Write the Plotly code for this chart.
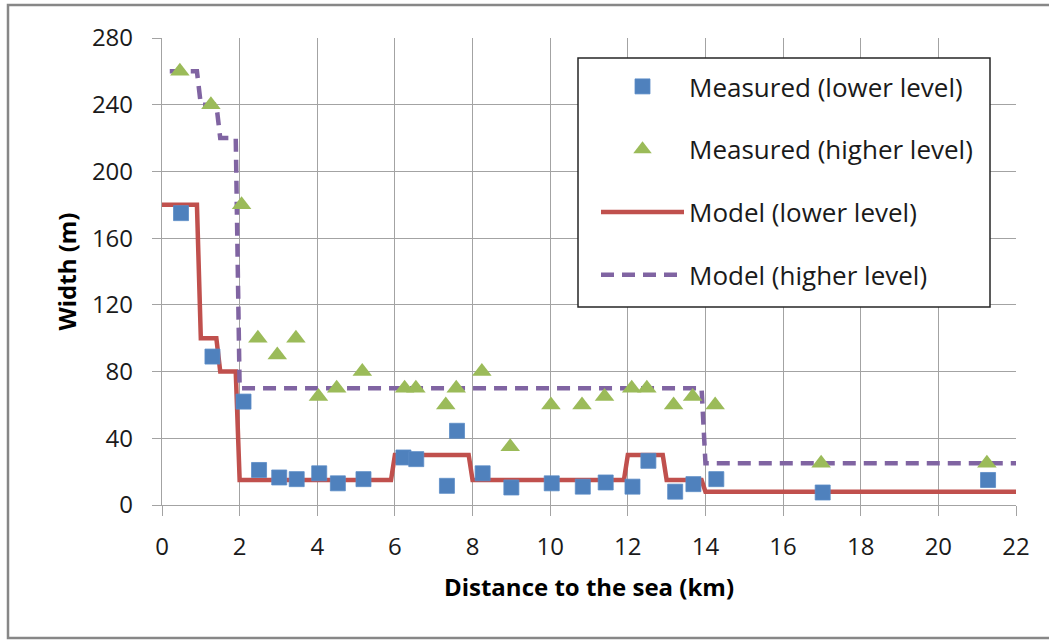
import plotly.graph_objects as go

# Measured widths (lower level)
meas_low_x = [0.49, 1.30, 2.10, 2.50, 3.02, 3.47, 4.05, 4.53, 5.19, 6.22, 6.55, 7.34, 7.60,
              8.26, 9.00, 10.04, 10.84, 11.43, 12.12, 12.53, 13.22, 13.69, 14.28, 17.02, 21.28]
meas_low_y = [175, 89, 62, 21, 16.5, 15.5, 19, 13, 15.5, 28.5, 27.5, 11.5, 44.5,
              19, 10.5, 13, 11, 13.5, 11, 26.5, 8, 12.5, 15.5, 7.5, 15]

# Measured widths (higher level)
meas_high_x = [0.46, 1.26, 2.05, 2.47, 2.97, 3.45, 4.03, 4.50, 5.16, 6.25, 6.54, 7.31, 7.58,
               8.24, 8.97, 10.02, 10.82, 11.40, 12.10, 12.49, 13.18, 13.67, 14.25, 16.98, 21.25]
meas_high_y = [260, 240, 180, 100, 90, 100, 65, 70, 80, 70, 70, 60, 70,
               80, 35, 60, 60, 65, 70, 70, 60, 65, 60, 25, 25]

# Model (lower level)
model_low_x = [0, 0.9, 1.0, 1.4, 1.5, 1.9, 2.0, 5.9, 6.0, 7.9, 8.0, 11.9, 12.0, 12.9, 13.0, 13.9, 14.0, 22]
model_low_y = [180, 180, 100, 100, 80, 80, 15, 15, 30, 30, 15, 15, 30, 30, 15, 15, 8, 8]

# Model (higher level)
model_high_x = [0.2, 0.9, 1.0, 1.4, 1.5, 1.9, 2.0, 13.9, 14.0, 22]
model_high_y = [260, 260, 240, 240, 220, 220, 70, 70, 25, 25]

x_ticks = list(range(0, 23, 2))
y_ticks = list(range(0, 281, 40))

FONT = "Open Sans"
GRID = "#a3a3a3"
TXT = "#1a1a1a"

fig = go.Figure()

fig.add_trace(go.Scatter(
    x=model_low_x, y=model_low_y, mode="lines", name="Model (lower level)",
    line=dict(color="#C0504D", width=4.5), legendrank=3, legendgroup="c"))
fig.add_trace(go.Scatter(
    x=model_high_x, y=model_high_y, mode="lines", name="Model (higher level)",
    line=dict(color="#8064A2", width=4.5, dash="13px,8px"), legendrank=4, legendgroup="d"))
fig.add_trace(go.Scatter(
    x=meas_low_x, y=meas_low_y, mode="markers", name="Measured (lower level)",
    marker=dict(symbol="square", size=15, color="#4F81BD",
                line=dict(width=0.8, color="#5b8cc6")),
    legendrank=1, legendgroup="a"))
fig.add_trace(go.Scatter(
    x=meas_high_x, y=meas_high_y, mode="markers", name="Measured (higher level)",
    marker=dict(symbol="triangle-up", size=17, color="#9BBB59",
                line=dict(width=0)),
    legendrank=2, legendgroup="b"))

L, R, T, B = 162, 33, 38, 136
W, H = 1049, 641
pw, ph = W - L - R, H - T - B

def px(xp):
    return (xp - L) / pw

def py(yp):
    return (H - B - yp) / ph

fig.update_layout(
    width=W, height=H,
    margin=dict(l=L, r=R, t=T, b=B, pad=0),
    paper_bgcolor="white", plot_bgcolor="white",
    font=dict(family=FONT, size=24, color=TXT),
    showlegend=True,
    legend=dict(
        x=px(596), y=py(63), xanchor="left", yanchor="top",
        bgcolor="rgba(0,0,0,0)", borderwidth=0,
        font=dict(family=FONT, size=26, color=TXT),
        traceorder="grouped", tracegroupgap=26, itemwidth=83,
    ),
    xaxis=dict(
        range=[0, 22], tickvals=x_ticks, ticktext=[str(v) for v in x_ticks],
        showgrid=True, gridcolor=GRID, gridwidth=1.3,
        zeroline=False, showline=True, linecolor=GRID, linewidth=1.3,
        ticks="outside", ticklen=10, tickcolor=GRID, tickwidth=1.3,
        ticklabelstandoff=10,
        tickfont=dict(family=FONT, size=24, color=TXT),
        title=dict(text="<b>Distance to the sea (km)</b>",
                   font=dict(family=FONT, size=24, color="#000000"), standoff=18),
    ),
    yaxis=dict(
        range=[0, 280], tickvals=y_ticks, ticktext=[str(v) for v in y_ticks],
        showgrid=True, gridcolor=GRID, gridwidth=1.3,
        zeroline=False, showline=True, linecolor=GRID, linewidth=1.3,
        ticks="outside", ticklen=9, tickcolor=GRID, tickwidth=1.3,
        ticklabelstandoff=14,
        tickfont=dict(family=FONT, size=24, color=TXT),
        title=dict(text="<b>Width (m)</b>",
                   font=dict(family=FONT, size=24, color="#000000"), standoff=8),
    ),
    shapes=[
        dict(type="rect", xref="paper", yref="paper",
             x0=px(8), x1=px(1060), y0=py(638), y1=py(5),
             line=dict(color="#878787", width=2.5), fillcolor="rgba(0,0,0,0)",
             layer="above"),
        dict(type="rect", xref="paper", yref="paper",
             x0=px(578), x1=px(990), y0=py(307), y1=py(58),
             line=dict(color="#262626", width=1.5), fillcolor="white",
             layer="above"),
    ],
)

fig.write_html("out.html")
